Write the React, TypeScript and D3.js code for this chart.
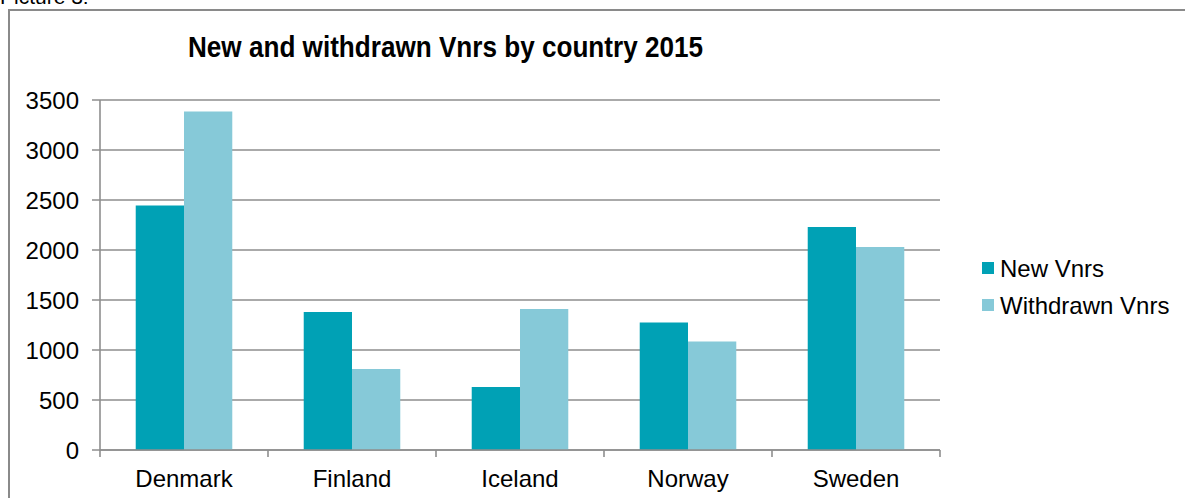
import React from "react";
import * as d3 from "d3";

const countries = ["Denmark", "Finland", "Iceland", "Norway", "Sweden"];
const newVnrs = [2445, 1380, 630, 1275, 2230];
const withdrawnVnrs = [3385, 810, 1410, 1085, 2030];
const seriesNames = ["New Vnrs", "Withdrawn Vnrs"];
const seriesColors = ["#00A1B5", "#86C9D8"];
const yTicks = [0, 500, 1000, 1500, 2000, 2500, 3000, 3500];
const title = "New and withdrawn Vnrs by country 2015";

export default function App() {
  const W = 1185, H = 498;
  const left = 100, right = 940, top = 100, bottom = 450;
  const x = d3.scaleBand<string>().domain(countries).range([left, right]).paddingInner(0).paddingOuter(0);
  const y = d3.scaleLinear().domain([0, 3500]).range([bottom, top]);
  const bw = x.bandwidth();
  const barW = bw / (2 + 1.48);
  const off = (bw - 2 * barW) / 2;
  const series = [newVnrs, withdrawnVnrs];
  const grid = "#8e8e8e";
  const font = "'Liberation Sans', Arial, sans-serif";
  const fs = 24;

  return (
    <svg width={W} height={H} style={{ position: "absolute", left: 0, top: 0, background: "#fff" }}>
      <text x={0} y={4} fontFamily={font} fontSize={21} fill="#000">Picture 3:</text>
      <rect x={9} y={10} width={1200} height={520} fill="none" stroke="#8a8a8a" strokeWidth={2} />
      <text x={188} y={57} fontFamily={font} fontWeight="bold" fontSize={29} textLength={515} lengthAdjust="spacingAndGlyphs" fill="#000">{title}</text>
      {yTicks.map((t) => (
        <g key={t}>
          <line x1={92} x2={right} y1={y(t)} y2={y(t)} stroke={grid} strokeWidth={1.6} />
          <text x={79} y={y(t) + 8.5} textAnchor="end" fontFamily={font} fontSize={fs} fill="#000">{t}</text>
        </g>
      ))}
      <line x1={left} x2={left} y1={top} y2={bottom + 0.8} stroke={grid} strokeWidth={1.6} />
      {countries.map((c, i) => (
        <g key={c}>
          {series.map((s, j) => (
            <rect key={j} x={(x(c) as number) + off + j * barW} y={y(s[i])} width={barW} height={y(0) - y(s[i])} fill={seriesColors[j]} />
          ))}
          <text x={(x(c) as number) + bw / 2} y={487} textAnchor="middle" fontFamily={font} fontSize={fs} fill="#000">{c}</text>
        </g>
      ))}
      <line x1={left} x2={right} y1={bottom} y2={bottom} stroke={grid} strokeWidth={1.6} />
      {[...countries.map((c) => x(c) as number), right].map((t, i) => (
        <line key={i} x1={t} x2={t} y1={bottom} y2={bottom + 7} stroke={grid} strokeWidth={1.6} />
      ))}
      {seriesNames.map((n, j) => (
        <g key={n}>
          <rect x={982} y={262 + j * 37} width={12} height={12} fill={seriesColors[j]} />
          <text x={1000} y={277 + j * 37} fontFamily={font} fontSize={fs} fill="#000">{n}</text>
        </g>
      ))}
    </svg>
  );
}
